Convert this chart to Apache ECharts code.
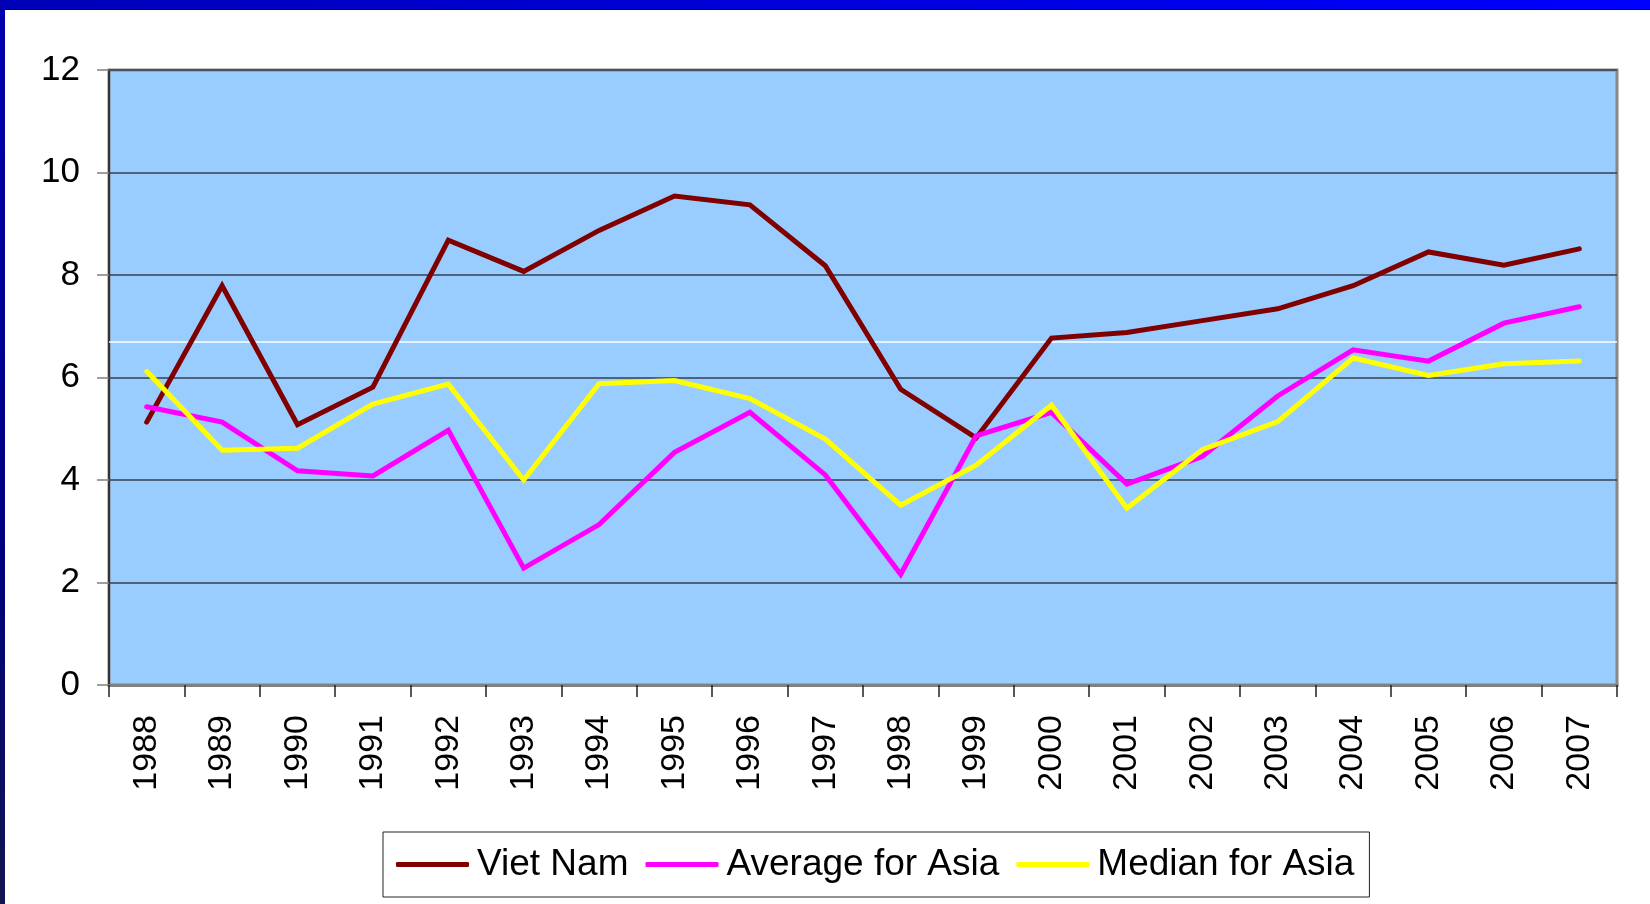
<!DOCTYPE html>
<html>
<head>
<meta charset="utf-8">
<script src="https://cdn.jsdelivr.net/npm/echarts@6.0.0/dist/echarts.min.js"></script>
<style>
  html, body { margin: 0; padding: 0; background: #ffffff; }
  #chart { position: absolute; left: 0; top: 0; width: 1650px; height: 904px; }
  .bar-top { position: absolute; left: 0; top: 0; width: 1650px; height: 9px;
    background: linear-gradient(to right, #0000b8, #0000ff); border-bottom: 1px solid #000; }
  .bar-left { position: absolute; left: 0; top: 0; width: 5px; height: 904px;
    background: linear-gradient(to bottom, #0000b0, #000080 60%, #141450); }
</style>
</head>
<body>
<div id="chart"></div>
<div class="bar-top"></div>
<div class="bar-left"></div>
<script>
// 年份
const years = ['1988', '1989', '1990', '1991', '1992', '1993', '1994', '1995', '1996', '1997',
  '1998', '1999', '2000', '2001', '2002', '2003', '2004', '2005', '2006', '2007']

// 各系列數值
const vietNam = [5.13, 7.79, 5.08, 5.81, 8.68, 8.07, 8.87, 9.54, 9.37, 8.18,
  5.77, 4.82, 6.77, 6.88, 7.11, 7.34, 7.79, 8.45, 8.19, 8.51]
const averageAsia = [5.43, 5.13, 4.18, 4.08, 4.97, 2.28, 3.13, 4.54, 5.32, 4.10,
  2.16, 4.86, 5.32, 3.92, 4.46, 5.64, 6.54, 6.32, 7.06, 7.38]
const medianAsia = [6.12, 4.58, 4.62, 5.48, 5.87, 4.00, 5.88, 5.94, 5.59, 4.80,
  3.51, 4.29, 5.46, 3.45, 4.59, 5.14, 6.38, 6.04, 6.27, 6.32]

// 圖中那條白色細線
const whiteLineValue = 6.7

const chart = echarts.init(document.getElementById('chart'))

const font = '"Liberation Sans", Arial, sans-serif'

const makeSeries = (name, data, color) => ({
  name: name,
  type: 'line',
  data: data,
  symbol: 'none',
  lineStyle: { color: color, width: 5, cap: 'round', join: 'miter' },
  itemStyle: { color: color },
  z: 5
})

const series = [
  makeSeries('Viet Nam', vietNam, '#800000'),
  makeSeries('Average for Asia', averageAsia, '#ff00ff'),
  makeSeries('Median for Asia', medianAsia, '#ffff00')
]

// 白線放在第一個系列的 markLine
series[0].markLine = {
  silent: true,
  symbol: 'none',
  label: { show: false },
  lineStyle: { color: '#ffffff', width: 1.5, type: 'solid' },
  data: [{ yAxis: whiteLineValue }],
  z: 1
}

const option = {
  animation: false,
  backgroundColor: 'transparent',
  grid: {
    left: 109,
    top: 70,
    right: 33,
    bottom: 219,
    show: true,
    backgroundColor: '#99ccff',
    borderColor: '#888888',
    borderWidth: 3
  },
  legend: {
    data: ['Viet Nam', 'Average for Asia', 'Median for Asia'],
    left: 383,
    top: 832,
    padding: [14, 15, 14, 13],
    borderColor: '#222222',
    borderWidth: 1,
    itemWidth: 73,
    itemHeight: 5,
    itemGap: 17,
    icon: 'roundRect',
    textStyle: {
      color: '#000000',
      fontSize: 37,
      fontFamily: font,
      lineHeight: 37,
      padding: [0, 0, 0, 3]
    }
  },
  xAxis: {
    type: 'category',
    data: years,
    boundaryGap: true,
    axisLine: { lineStyle: { color: '#808080', width: 3 } },
    axisTick: { show: true, length: 12, lineStyle: { color: '#222222', width: 1.5 } },
    axisLabel: {
      color: '#000000',
      fontSize: 34,
      fontFamily: font,
      rotate: 90,
      margin: 30,
      interval: 0
    },
    splitLine: { show: false }
  },
  yAxis: {
    type: 'value',
    min: 0,
    max: 12,
    interval: 2,
    axisLine: { show: true, lineStyle: { color: '#333333', width: 2 } },
    axisTick: { show: true, length: 12, lineStyle: { color: '#808080', width: 1.5 } },
    axisLabel: { color: '#000000', fontSize: 35, fontFamily: font, margin: 29 },
    splitLine: { show: true, lineStyle: { color: '#36404c', width: 1.5 } }
  },
  series: series
}

chart.setOption(option)
</script>
</body>
</html>
